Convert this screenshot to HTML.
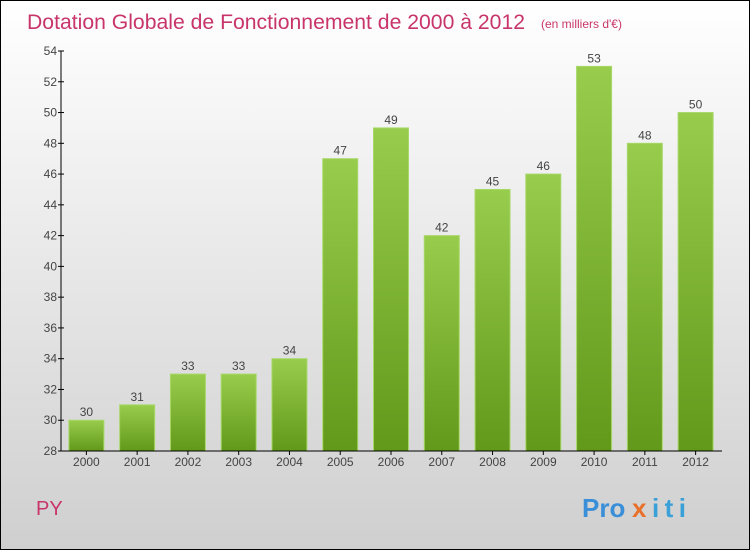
<!DOCTYPE html>
<html><head><meta charset="utf-8"><style>
body{margin:0}
#c{width:750px;height:550px;position:relative;box-sizing:border-box;border:1px solid #000;background:linear-gradient(#fff,#cfcfcf);font-family:"Liberation Sans",sans-serif;overflow:hidden}
</style></head><body>
<div id="c">
<svg id="s" width="750" height="550" style="position:absolute;left:-1px;top:-1px">
<defs><linearGradient id="g" x1="0" y1="0" x2="0" y2="1"><stop offset="0" stop-color="#98cc4c"/><stop offset="1" stop-color="#62991a"/></linearGradient></defs>
<text x="27" y="29" font-size="21" textLength="498" lengthAdjust="spacingAndGlyphs" fill="#c8356a">Dotation Globale de Fonctionnement de 2000 à 2012</text>
<text x="541" y="28" font-size="12" fill="#c8356a">(en milliers d'€)</text>
<text x="36" y="515" font-size="20" fill="#c8356a">PY</text>
<g font-size="26" font-weight="bold">
<text x="582" y="517" fill="#3a8fd8">Pro</text><text x="632" y="517" fill="#e8702a">x</text><text x="652" y="517" fill="#3aa0d8" textLength="34" lengthAdjust="spacing">iti</text>
</g>
</svg>
</div>
<script>
const categories=["2000","2001","2002","2003","2004","2005","2006","2007","2008","2009","2010","2011","2012"];
const values=[30,31,33,33,34,47,49,42,45,46,53,48,50];
const yTicks=[28,30,32,34,36,38,40,42,44,46,48,50,52,54];
const s=document.getElementById('s');const NS='http://www.w3.org/2000/svg';
const X0=61,X1=721,Y0=451,Y1=51,ymin=28,ymax=54;
const step=(X1-X0)/categories.length;
const y=v=>Y0-(v-ymin)/(ymax-ymin)*(Y0-Y1);
const xc=i=>X0+step*(i+0.5);
function mk(t,a){const e=document.createElementNS(NS,t);for(const k in a)e.setAttribute(k,a[k]);s.appendChild(e);return e;}
values.forEach((v,i)=>{
 const r=mk('rect',{x:xc(i)-17.5,y:y(v),width:35,height:Y0-y(v),fill:'url(#g)',stroke:'#a8d86a','stroke-width':1});
 
 
 const t=mk('text',{x:xc(i),y:y(v)-4,'text-anchor':'middle','font-size':12,fill:'#444'});t.textContent=v;
 
 
 const tk=mk('line',{x1:xc(i),x2:xc(i),y1:Y0,y2:Y0+4,stroke:'#000'});
 
 
 const l=mk('text',{x:xc(i),y:Y0+15,'text-anchor':'middle','font-size':12,fill:'#444'});l.textContent=categories[i];
 
 
});
yTicks.forEach(v=>{
 const tk=mk('line',{x1:X0-3,x2:X0+3,y1:y(v),y2:y(v),stroke:'#000'});
 
 
 const l=mk('text',{x:X0-4,y:y(v)+4,'text-anchor':'end','font-size':12,fill:'#444'});l.textContent=v;
 
 
});
const ya=mk('line',{x1:X0,x2:X0,y1:Y1,y2:Y0,stroke:'#000'});


const xa=mk('line',{x1:X0,x2:X1+1,y1:Y0,y2:Y0,stroke:'#000'});


</script>
</body></html>
